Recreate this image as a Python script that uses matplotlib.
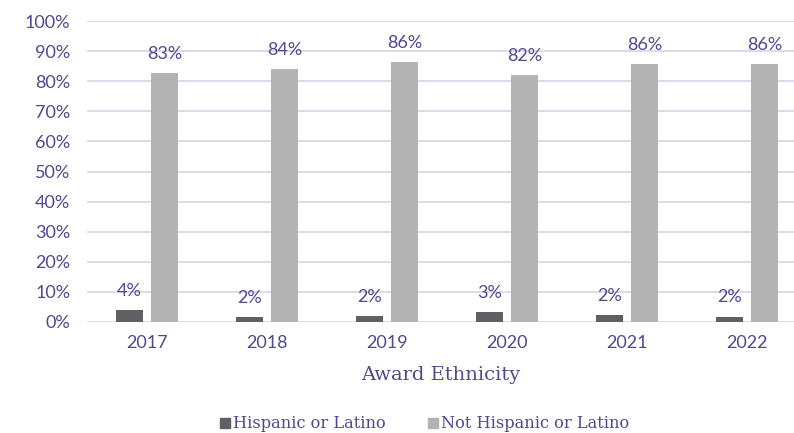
import matplotlib
matplotlib.use('Agg')

from matplotlib import pyplot as plt
from matplotlib.patches import Patch
import numpy as np

# Data
years = ["2017", "2018", "2019", "2020", "2021", "2022"]
hispanic = [4.0, 1.6, 1.9, 3.4, 2.3, 1.8]
not_hispanic = [82.8, 84.0, 86.3, 82.1, 85.7, 85.6]
hispanic_labels = ["4%", "2%", "2%", "3%", "2%", "2%"]
not_hispanic_labels = ["83%", "84%", "86%", "82%", "86%", "86%"]

text_color = "#4E4A8E"
grid_color = "#D9D7EC"
dark_bar = "#5F5F64"
light_bar = "#B3B3B3"

fig = plt.figure(figsize=(7.94, 4.33), dpi=100)
ax = fig.add_axes([87 / 794, 111 / 433, 1 - 87 / 794, (322 - 21) / 433])

x = np.arange(len(years))
width = 0.225
offset = 0.146

b1 = ax.bar(x - offset, hispanic, width, color=dark_bar, zorder=3)
b2 = ax.bar(x + offset, not_hispanic, width, color=light_bar, zorder=3)

# value labels above bars
for bars, labels in ((b1, hispanic_labels), (b2, not_hispanic_labels)):
    for bar, lab in zip(bars, labels):
        ax.annotate(lab, (bar.get_x() + bar.get_width() / 2, bar.get_height()),
                    xytext=(0, 8), textcoords="offset points",
                    ha="center", va="bottom", fontsize=13,
                    family="Lato", color=text_color, zorder=4)

ax.set_ylim(0, 100)
ax.set_xlim(-0.5, 5.5 - 13 / 120)
ax.set_yticks(np.arange(0, 101, 10))
ax.set_yticklabels([f"{v}%" for v in range(0, 101, 10)])
ax.set_xticks(x)
ax.set_xticklabels(years)

for lab in ax.get_xticklabels() + ax.get_yticklabels():
    lab.set_family("Lato")
    lab.set_fontsize(13)
    lab.set_color(text_color)

ax.tick_params(axis="both", length=0)
ax.tick_params(axis="y", pad=12)
ax.tick_params(axis="x", pad=9)
ax.grid(axis="y", color=grid_color, linewidth=1.3, zorder=0)
for side in ax.spines.values():
    side.set_visible(False)

ax.set_xlabel("Award Ethnicity", family="DejaVu Serif", fontsize=14,
              color=text_color, labelpad=11)

handles = [Patch(color=dark_bar), Patch(color=light_bar)]
fig.legend(handles, ["Hispanic or Latino", "Not Hispanic or Latino"],
           loc="center", bbox_to_anchor=(425 / 794, 1 - 424 / 433), ncol=2,
           frameon=False, handlelength=0.6, handleheight=0.6, handletextpad=0.2,
           columnspacing=2.6,
           prop={"family": "DejaVu Serif", "size": 11.7}, labelcolor=text_color)

plt.savefig("out.png", dpi=100)
plt.close()
